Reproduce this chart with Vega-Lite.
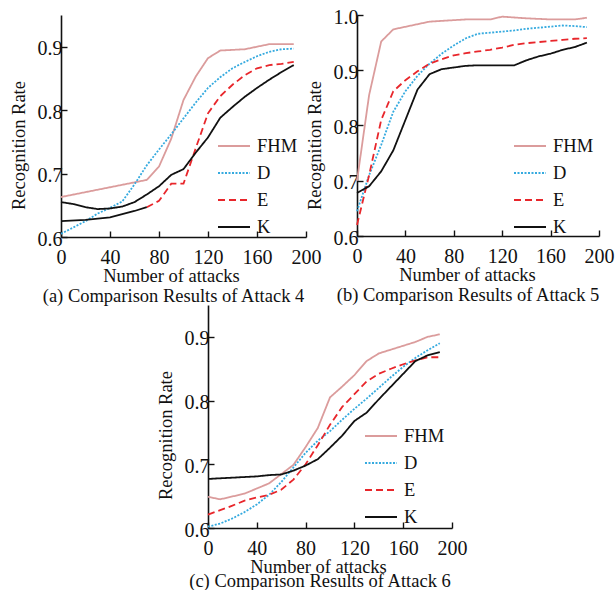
{
  "$schema": "https://vega.github.io/schema/vega-lite/v6.json",
  "autosize": {"type": "pad"},
  "padding": {"left": 9, "top": 7, "right": 5, "bottom": 2},
  "background": "white",
  "config": {
    "font": "Liberation Serif",
    "view": {"stroke": null},
    "axis": {
      "grid": false,
      "domainColor": "#111111",
      "domainWidth": 1.6,
      "tickColor": "#111111",
      "tickWidth": 1.4,
      "tickSize": -6,
      "labelFont": "Liberation Serif",
      "labelFontSize": 20,
      "labelColor": "#111111",
      "titleFont": "Liberation Serif",
      "titleFontSize": 18.5,
      "titleFontWeight": "normal",
      "titleColor": "#111111"
    },
    "axisX": {"labelPadding": 16, "labelFlush": false, "titleX": 110, "titleY": 44, "titleBaseline": "alphabetic", "titleAnchor": "middle"},
    "axisY": {"labelPadding": 5, "labelOffset": 2, "titleX": -43, "titleY": 130, "titleAngle": -90, "titleBaseline": "middle", "titleAnchor": "middle"},
    "legend": {
      "orient": "none",
      "legendX": 156,
      "legendY": 114,
      "padding": 0,
      "symbolType": "stroke",
      "symbolSize": 1024,
      "symbolStrokeWidth": 1.8,
      "labelFont": "Liberation Serif",
      "labelFontSize": 18.5,
      "labelColor": "#111111",
      "labelOffset": 6,
      "rowPadding": -5,
      "labelLimit": 200
    },
    "title": {"font": "Liberation Serif", "fontSize": 18.5, "fontWeight": "normal", "color": "#111111", "orient": "bottom", "anchor": "middle", "frame": "group", "dx": -10, "offset": 2},
    "line": {"strokeWidth": 1.8}
  },
  "datasets": {
    "attack4": [
      {"n": 0, "rate": 0.663, "method": "FHM"}, {"n": 70, "rate": 0.690, "method": "FHM"}, {"n": 80, "rate": 0.711, "method": "FHM"},
      {"n": 90, "rate": 0.755, "method": "FHM"}, {"n": 100, "rate": 0.816, "method": "FHM"}, {"n": 110, "rate": 0.853, "method": "FHM"},
      {"n": 120, "rate": 0.882, "method": "FHM"}, {"n": 130, "rate": 0.894, "method": "FHM"}, {"n": 150, "rate": 0.896, "method": "FHM"},
      {"n": 170, "rate": 0.904, "method": "FHM"}, {"n": 190, "rate": 0.904, "method": "FHM"},
      {"n": 0, "rate": 0.605, "method": "D"}, {"n": 10, "rate": 0.615, "method": "D"}, {"n": 20, "rate": 0.625, "method": "D"},
      {"n": 30, "rate": 0.637, "method": "D"}, {"n": 40, "rate": 0.646, "method": "D"}, {"n": 50, "rate": 0.656, "method": "D"},
      {"n": 60, "rate": 0.683, "method": "D"}, {"n": 70, "rate": 0.713, "method": "D"}, {"n": 80, "rate": 0.738, "method": "D"},
      {"n": 90, "rate": 0.762, "method": "D"}, {"n": 100, "rate": 0.787, "method": "D"}, {"n": 110, "rate": 0.812, "method": "D"},
      {"n": 120, "rate": 0.835, "method": "D"}, {"n": 130, "rate": 0.852, "method": "D"}, {"n": 140, "rate": 0.866, "method": "D"},
      {"n": 150, "rate": 0.876, "method": "D"}, {"n": 160, "rate": 0.885, "method": "D"}, {"n": 170, "rate": 0.892, "method": "D"},
      {"n": 180, "rate": 0.896, "method": "D"}, {"n": 190, "rate": 0.897, "method": "D"},
      {"n": 70, "rate": 0.647, "method": "E"}, {"n": 80, "rate": 0.657, "method": "E"}, {"n": 90, "rate": 0.684, "method": "E"},
      {"n": 100, "rate": 0.684, "method": "E"}, {"n": 110, "rate": 0.740, "method": "E"}, {"n": 120, "rate": 0.795, "method": "E"},
      {"n": 130, "rate": 0.822, "method": "E"}, {"n": 140, "rate": 0.840, "method": "E"}, {"n": 150, "rate": 0.855, "method": "E"},
      {"n": 160, "rate": 0.866, "method": "E"}, {"n": 170, "rate": 0.871, "method": "E"}, {"n": 180, "rate": 0.873, "method": "E"},
      {"n": 190, "rate": 0.876, "method": "E"},
      {"n": 0, "rate": 0.655, "method": "K"}, {"n": 10, "rate": 0.652, "method": "K"}, {"n": 20, "rate": 0.647, "method": "K"},
      {"n": 30, "rate": 0.644, "method": "K"}, {"n": 40, "rate": 0.645, "method": "K"}, {"n": 50, "rate": 0.648, "method": "K"},
      {"n": 60, "rate": 0.655, "method": "K"}, {"n": 70, "rate": 0.667, "method": "K"}, {"n": 80, "rate": 0.680, "method": "K"},
      {"n": 90, "rate": 0.698, "method": "K"}, {"n": 100, "rate": 0.707, "method": "K"}, {"n": 110, "rate": 0.733, "method": "K"},
      {"n": 120, "rate": 0.757, "method": "K"}, {"n": 130, "rate": 0.788, "method": "K"}, {"n": 140, "rate": 0.805, "method": "K"},
      {"n": 150, "rate": 0.821, "method": "K"}, {"n": 160, "rate": 0.835, "method": "K"}, {"n": 170, "rate": 0.848, "method": "K"},
      {"n": 180, "rate": 0.860, "method": "K"}, {"n": 190, "rate": 0.871, "method": "K"}
    ],
    "attack4_E_lead": [
      {"n": 0, "rate": 0.625}, {"n": 20, "rate": 0.627}, {"n": 40, "rate": 0.631},
      {"n": 50, "rate": 0.636}, {"n": 60, "rate": 0.641}, {"n": 70, "rate": 0.647}
    ],
    "attack5": [
      {"n": 0, "rate": 0.700, "method": "FHM"}, {"n": 10, "rate": 0.855, "method": "FHM"}, {"n": 20, "rate": 0.952, "method": "FHM"},
      {"n": 30, "rate": 0.974, "method": "FHM"}, {"n": 60, "rate": 0.988, "method": "FHM"}, {"n": 90, "rate": 0.992, "method": "FHM"},
      {"n": 110, "rate": 0.992, "method": "FHM"}, {"n": 120, "rate": 0.997, "method": "FHM"}, {"n": 140, "rate": 0.994, "method": "FHM"},
      {"n": 160, "rate": 0.992, "method": "FHM"}, {"n": 180, "rate": 0.992, "method": "FHM"}, {"n": 190, "rate": 0.995, "method": "FHM"},
      {"n": 0, "rate": 0.645, "method": "D"}, {"n": 10, "rate": 0.710, "method": "D"}, {"n": 20, "rate": 0.765, "method": "D"},
      {"n": 30, "rate": 0.825, "method": "D"}, {"n": 40, "rate": 0.862, "method": "D"}, {"n": 50, "rate": 0.890, "method": "D"},
      {"n": 60, "rate": 0.912, "method": "D"}, {"n": 70, "rate": 0.930, "method": "D"}, {"n": 80, "rate": 0.945, "method": "D"},
      {"n": 90, "rate": 0.958, "method": "D"}, {"n": 100, "rate": 0.966, "method": "D"}, {"n": 110, "rate": 0.968, "method": "D"},
      {"n": 120, "rate": 0.970, "method": "D"}, {"n": 130, "rate": 0.972, "method": "D"}, {"n": 140, "rate": 0.975, "method": "D"},
      {"n": 150, "rate": 0.977, "method": "D"}, {"n": 160, "rate": 0.979, "method": "D"}, {"n": 170, "rate": 0.981, "method": "D"},
      {"n": 180, "rate": 0.980, "method": "D"}, {"n": 190, "rate": 0.978, "method": "D"},
      {"n": 0, "rate": 0.620, "method": "E"}, {"n": 10, "rate": 0.710, "method": "E"}, {"n": 20, "rate": 0.810, "method": "E"},
      {"n": 30, "rate": 0.862, "method": "E"}, {"n": 40, "rate": 0.882, "method": "E"}, {"n": 50, "rate": 0.898, "method": "E"},
      {"n": 60, "rate": 0.912, "method": "E"}, {"n": 70, "rate": 0.920, "method": "E"}, {"n": 80, "rate": 0.927, "method": "E"},
      {"n": 90, "rate": 0.931, "method": "E"}, {"n": 100, "rate": 0.934, "method": "E"}, {"n": 110, "rate": 0.937, "method": "E"},
      {"n": 120, "rate": 0.941, "method": "E"}, {"n": 130, "rate": 0.946, "method": "E"}, {"n": 140, "rate": 0.949, "method": "E"},
      {"n": 150, "rate": 0.951, "method": "E"}, {"n": 160, "rate": 0.953, "method": "E"}, {"n": 170, "rate": 0.955, "method": "E"},
      {"n": 180, "rate": 0.957, "method": "E"}, {"n": 190, "rate": 0.958, "method": "E"},
      {"n": 0, "rate": 0.678, "method": "K"}, {"n": 10, "rate": 0.690, "method": "K"}, {"n": 20, "rate": 0.717, "method": "K"},
      {"n": 30, "rate": 0.755, "method": "K"}, {"n": 40, "rate": 0.810, "method": "K"}, {"n": 50, "rate": 0.865, "method": "K"},
      {"n": 60, "rate": 0.893, "method": "K"}, {"n": 70, "rate": 0.902, "method": "K"}, {"n": 80, "rate": 0.905, "method": "K"},
      {"n": 90, "rate": 0.908, "method": "K"}, {"n": 100, "rate": 0.909, "method": "K"}, {"n": 110, "rate": 0.909, "method": "K"},
      {"n": 120, "rate": 0.909, "method": "K"}, {"n": 130, "rate": 0.909, "method": "K"}, {"n": 140, "rate": 0.918, "method": "K"},
      {"n": 150, "rate": 0.925, "method": "K"}, {"n": 160, "rate": 0.930, "method": "K"}, {"n": 170, "rate": 0.937, "method": "K"},
      {"n": 180, "rate": 0.942, "method": "K"}, {"n": 190, "rate": 0.950, "method": "K"}
    ],
    "attack6": [
      {"n": 0, "rate": 0.649, "method": "FHM"}, {"n": 10, "rate": 0.645, "method": "FHM"}, {"n": 30, "rate": 0.654, "method": "FHM"},
      {"n": 50, "rate": 0.670, "method": "FHM"}, {"n": 70, "rate": 0.699, "method": "FHM"}, {"n": 80, "rate": 0.727, "method": "FHM"},
      {"n": 90, "rate": 0.757, "method": "FHM"}, {"n": 100, "rate": 0.805, "method": "FHM"}, {"n": 110, "rate": 0.822, "method": "FHM"},
      {"n": 120, "rate": 0.840, "method": "FHM"}, {"n": 130, "rate": 0.862, "method": "FHM"}, {"n": 140, "rate": 0.874, "method": "FHM"},
      {"n": 150, "rate": 0.880, "method": "FHM"}, {"n": 160, "rate": 0.886, "method": "FHM"}, {"n": 170, "rate": 0.892, "method": "FHM"},
      {"n": 180, "rate": 0.900, "method": "FHM"}, {"n": 190, "rate": 0.904, "method": "FHM"},
      {"n": 0, "rate": 0.602, "method": "D"}, {"n": 10, "rate": 0.607, "method": "D"}, {"n": 20, "rate": 0.615, "method": "D"},
      {"n": 30, "rate": 0.625, "method": "D"}, {"n": 40, "rate": 0.637, "method": "D"}, {"n": 50, "rate": 0.652, "method": "D"},
      {"n": 60, "rate": 0.672, "method": "D"}, {"n": 70, "rate": 0.695, "method": "D"}, {"n": 80, "rate": 0.718, "method": "D"},
      {"n": 90, "rate": 0.737, "method": "D"}, {"n": 100, "rate": 0.752, "method": "D"}, {"n": 110, "rate": 0.770, "method": "D"},
      {"n": 120, "rate": 0.787, "method": "D"}, {"n": 130, "rate": 0.803, "method": "D"}, {"n": 140, "rate": 0.820, "method": "D"},
      {"n": 150, "rate": 0.837, "method": "D"}, {"n": 160, "rate": 0.853, "method": "D"}, {"n": 170, "rate": 0.867, "method": "D"},
      {"n": 180, "rate": 0.879, "method": "D"}, {"n": 190, "rate": 0.890, "method": "D"},
      {"n": 0, "rate": 0.621, "method": "E"}, {"n": 10, "rate": 0.628, "method": "E"}, {"n": 20, "rate": 0.635, "method": "E"},
      {"n": 30, "rate": 0.643, "method": "E"}, {"n": 40, "rate": 0.648, "method": "E"}, {"n": 50, "rate": 0.652, "method": "E"},
      {"n": 60, "rate": 0.660, "method": "E"}, {"n": 70, "rate": 0.676, "method": "E"}, {"n": 80, "rate": 0.700, "method": "E"},
      {"n": 90, "rate": 0.730, "method": "E"}, {"n": 100, "rate": 0.762, "method": "E"}, {"n": 110, "rate": 0.790, "method": "E"},
      {"n": 120, "rate": 0.810, "method": "E"}, {"n": 130, "rate": 0.830, "method": "E"}, {"n": 140, "rate": 0.842, "method": "E"},
      {"n": 150, "rate": 0.850, "method": "E"}, {"n": 160, "rate": 0.857, "method": "E"}, {"n": 170, "rate": 0.863, "method": "E"},
      {"n": 180, "rate": 0.868, "method": "E"}, {"n": 190, "rate": 0.868, "method": "E"},
      {"n": 0, "rate": 0.677, "method": "K"}, {"n": 10, "rate": 0.678, "method": "K"}, {"n": 20, "rate": 0.679, "method": "K"},
      {"n": 30, "rate": 0.680, "method": "K"}, {"n": 40, "rate": 0.681, "method": "K"}, {"n": 50, "rate": 0.683, "method": "K"},
      {"n": 60, "rate": 0.684, "method": "K"}, {"n": 70, "rate": 0.690, "method": "K"}, {"n": 80, "rate": 0.698, "method": "K"},
      {"n": 90, "rate": 0.708, "method": "K"}, {"n": 100, "rate": 0.726, "method": "K"}, {"n": 110, "rate": 0.745, "method": "K"},
      {"n": 120, "rate": 0.768, "method": "K"}, {"n": 130, "rate": 0.781, "method": "K"}, {"n": 140, "rate": 0.802, "method": "K"},
      {"n": 150, "rate": 0.822, "method": "K"}, {"n": 160, "rate": 0.842, "method": "K"}, {"n": 170, "rate": 0.862, "method": "K"},
      {"n": 180, "rate": 0.871, "method": "K"}, {"n": 190, "rate": 0.876, "method": "K"}
    ]
  },
  "center": true,
  "spacing": -6,
  "vconcat": [
    {
      "bounds": "flush",
      "spacing": 51,
      "hconcat": [
        {
          "width": 245,
          "height": 222,
          "title": {"text": "(a) Comparison Results of Attack 4"},
          "layer": [
            {
              "data": {"name": "attack4"},
              "mark": {"type": "line"},
              "encoding": {
                "x": {"field": "n", "type": "quantitative", "scale": {"domain": [0, 200], "nice": false}, "axis": {"title": "Number of attacks", "values": [0, 40, 80, 120, 160, 200]}},
                "y": {"field": "rate", "type": "quantitative", "scale": {"domain": [0.6, 0.95], "nice": false, "zero": false}, "axis": {"title": "Recognition Rate", "values": [0.6, 0.7, 0.8, 0.9], "format": ".1f"}},
                "color": {"field": "method", "type": "nominal", "sort": ["FHM", "D", "E", "K"], "scale": {"domain": ["FHM", "D", "E", "K"], "range": ["#DB9C9C", "#35AADF", "#E8262B", "#111111"]}, "legend": {"title": null}},
                "strokeDash": {"field": "method", "type": "nominal", "sort": ["FHM", "D", "E", "K"], "scale": {"domain": ["FHM", "D", "E", "K"], "range": [[1, 0], [2, 1.5], [7, 4], [1, 0]]}, "legend": {"title": null}}
              }
            },
            {
              "data": {"name": "attack4_E_lead"},
              "mark": {"type": "line", "color": "#111111"},
              "encoding": {
                "x": {"field": "n", "type": "quantitative"},
                "y": {"field": "rate", "type": "quantitative"}
              }
            }
          ]
        },
        {
          "width": 242,
          "height": 221,
          "title": {"text": "(b) Comparison Results of Attack 5"},
          "data": {"name": "attack5"},
          "mark": {"type": "line"},
          "encoding": {
            "x": {"field": "n", "type": "quantitative", "scale": {"domain": [0, 200], "nice": false}, "axis": {"title": "Number of attacks", "values": [0, 40, 80, 120, 160, 200]}},
            "y": {"field": "rate", "type": "quantitative", "scale": {"domain": [0.6, 1.0], "nice": false, "zero": false}, "axis": {"title": "Recognition Rate", "values": [0.6, 0.7, 0.8, 0.9, 1.0], "format": ".1f"}},
            "color": {"field": "method", "type": "nominal", "sort": ["FHM", "D", "E", "K"], "scale": {"domain": ["FHM", "D", "E", "K"], "range": ["#DB9C9C", "#35AADF", "#E8262B", "#111111"]}, "legend": {"title": null}},
            "strokeDash": {"field": "method", "type": "nominal", "sort": ["FHM", "D", "E", "K"], "scale": {"domain": ["FHM", "D", "E", "K"], "range": [[1, 0], [2, 1.5], [7, 4], [1, 0]]}, "legend": {"title": null}}
          }
        }
      ],
      "resolve": {"scale": {"x": "independent", "y": "independent", "color": "independent", "strokeDash": "independent"}, "legend": {"color": "independent", "strokeDash": "independent"}}
    },
    {
      "width": 244,
      "height": 223,
      "title": {"text": "(c) Comparison Results of Attack 6", "offset": -4},
      "data": {"name": "attack6"},
      "mark": {"type": "line"},
      "encoding": {
        "x": {"field": "n", "type": "quantitative", "scale": {"domain": [0, 200], "nice": false}, "axis": {"title": "Number of attacks", "values": [0, 40, 80, 120, 160, 200]}},
        "y": {"field": "rate", "type": "quantitative", "scale": {"domain": [0.6, 0.95], "nice": false, "zero": false}, "axis": {"title": "Recognition Rate", "values": [0.6, 0.7, 0.8, 0.9], "format": ".1f"}},
        "color": {"field": "method", "type": "nominal", "sort": ["FHM", "D", "E", "K"], "scale": {"domain": ["FHM", "D", "E", "K"], "range": ["#DB9C9C", "#35AADF", "#E8262B", "#111111"]}, "legend": {"title": null}},
        "strokeDash": {"field": "method", "type": "nominal", "sort": ["FHM", "D", "E", "K"], "scale": {"domain": ["FHM", "D", "E", "K"], "range": [[1, 0], [2, 1.5], [7, 4], [1, 0]]}, "legend": {"title": null}}
      }
    }
  ],
  "resolve": {"scale": {"x": "independent", "y": "independent", "color": "independent", "strokeDash": "independent"}, "legend": {"color": "independent", "strokeDash": "independent"}}
}
